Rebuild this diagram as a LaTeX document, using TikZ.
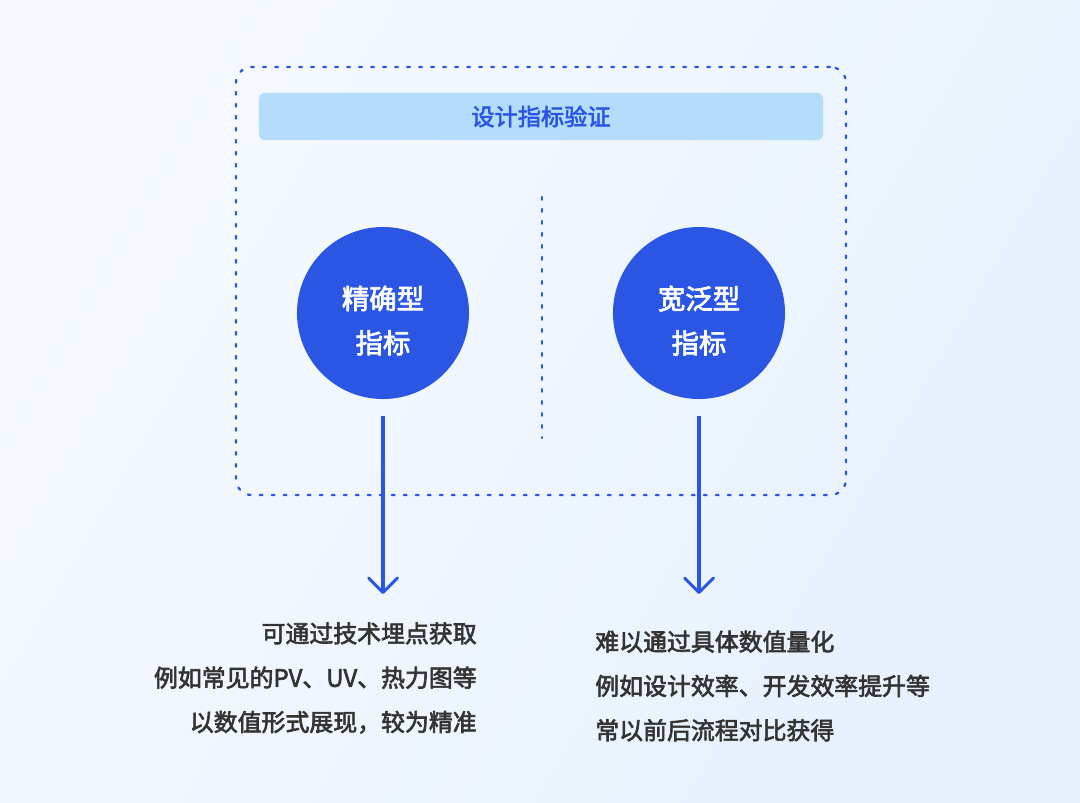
\documentclass[tikz,border=0pt]{standalone}
\usepackage{fontspec}
\usepackage{tikz}
\usetikzlibrary{arrows.meta, positioning, shapes.geometric}
\newfontfamily\cjk[FakeBold=2.6]{Noto Sans CJK SC}
\definecolor{bgleft}{RGB}{246,250,255}
\definecolor{bgright}{RGB}{231,241,252}
\definecolor{metblue}{RGB}{43,86,227}
\definecolor{metbar}{RGB}{180,220,251}
\definecolor{mettext}{RGB}{51,51,51}

\begin{document}
\begin{tikzpicture}[
  x=0.025cm, y=-0.025cm,
  frame/.style={rectangle, rounded corners=0.4cm, draw=metblue, line width=1.6pt,
                dash pattern=on 0.07cm off 0.23cm, line cap=round},
  bar/.style={rectangle, rounded corners=0.15cm, fill=metbar, text=metblue,
              font=\cjk\fontsize{16.5pt}{20pt}\selectfont},
  kind/.style={circle, fill=metblue, minimum size=4.3cm},
  kindtext/.style={text=white, align=center,
                   font=\cjk\fontsize{19.5pt}{31.5pt}\selectfont},
  note/.style={text=mettext, inner sep=0pt,
               font=\cjk\fontsize{17pt}{31.5pt}\selectfont},
  sep/.style={draw=metblue, line width=1.6pt, dash pattern=on 0.07cm off 0.23cm,
              line cap=round},
  arr/.style={-{Straight Barb[length=0.36cm, width=0.72cm, line cap=round, line join=round]},
              draw=metblue, line width=2.2pt}
]
  %% --- Background ---
  \shade[left color=bgleft, right color=bgright, shading angle=60]
    (0,0) rectangle (1080,803);
  \useasboundingbox (0,0) rectangle (1080,803);

  %% --- Dotted frame and title bar ---
  \node[frame, minimum width=15.25cm, minimum height=10.7cm] (box) at (541,281) {};
  \node[bar, minimum width=14.1cm, minimum height=1.18cm] (title) at (541,116.5)
    {设计指标验证};

  %% --- Divider ---
  \coordinate (dtop) at (542,197);
  \coordinate (dbot) at (542,438);
  \draw[sep] (dtop) -- (dbot);

  %% --- Two kinds of metrics ---
  \node[kind] (exact) at (383,313) {};
  \node[kind] (broad) at (699,313) {};
  \node[kindtext] (exlabel) at ([yshift=-0.19cm]exact.center) {精确型\\指标};
  \node[kindtext] (brlabel) at ([yshift=-0.19cm]broad.center) {宽泛型\\指标};

  %% --- Notes ---
  \node[note, anchor=east, align=right] (exnote) at (477,678)
    {可通过技术埋点获取\\例如常见的PV、UV、热力图等\\以数值形式展现，较为精准};
  \node[note, anchor=west, align=left] (brnote) at (595,686)
    {难以通过具体数值量化\\例如设计效率、开发效率提升等\\常以前后流程对比获得};

  %% --- Arrows ---
  \coordinate (exend) at (383,594);
  \coordinate (brend) at (699,594);
  \draw[arr, shorten <=0.42cm] (exact.south) -- (exend);
  \draw[arr, shorten <=0.42cm] (broad.south) -- (brend);

\end{tikzpicture}
\end{document}
